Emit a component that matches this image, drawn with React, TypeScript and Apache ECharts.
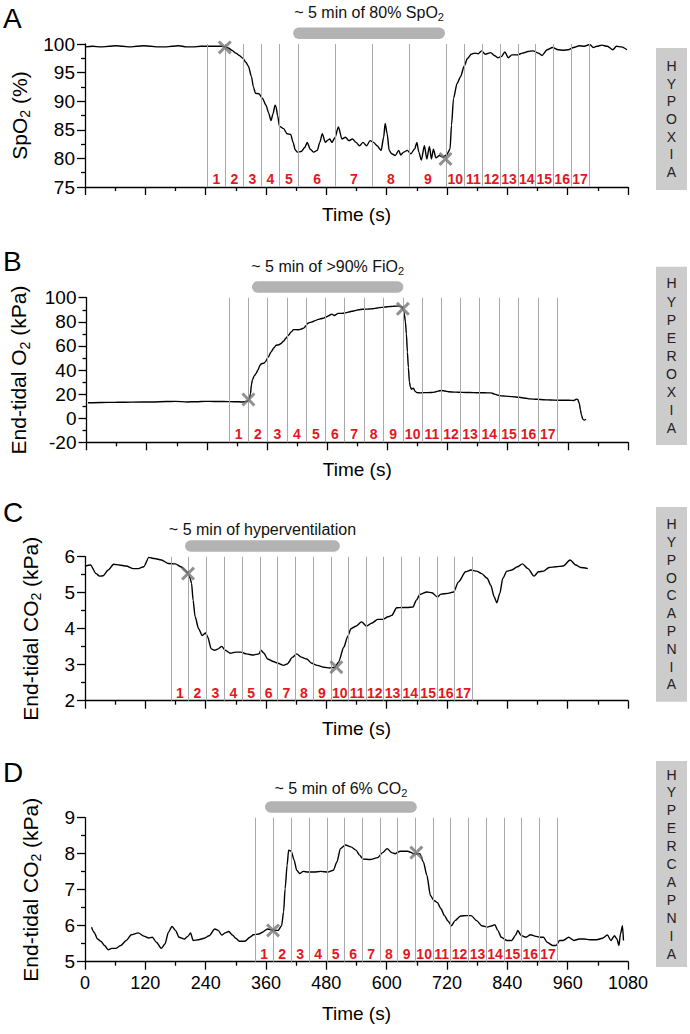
import React, { useEffect, useRef } from "react";
import * as echarts from "echarts";

const FONT = "'Liberation Sans', Arial, Helvetica, sans-serif";

// shared time axis (s)
const timeMin = 0;
const timeMax = 1080;
const timeStep = 120;

// ---------- Panel A: SpO2 (%) ----------
const spo2Trace = [
  [0, 99.5], [15, 99.6], [32, 99.5], [48, 99.6], [61, 99.7], [75, 99.6], [89, 99.5], [103, 99.6], [117, 99.7], [131, 99.6],
  [145, 99.5], [159, 99.5], [173, 99.6], [187, 99.7], [201, 99.5], [215, 99.5], [230, 99.6], [245, 99.6], [258, 99.6], [272, 99.6],
  [278, 99.5], [285, 99.3], [292, 98.9], [300, 98.4], [307, 98.0], [314, 97.5], [320, 96.8], [325, 96.1], [331, 94.3], [335, 92.5],
  [339, 91.4], [346, 91.3], [353, 90.5], [360, 89.3], [365, 88.0], [370, 86.6], [374, 87.8], [378, 89.3], [380, 89.0], [383, 87.5],
  [387, 85.6], [395, 85.2], [402, 84.3], [409, 84.2], [414, 82.8], [418, 81.5], [422, 81.1], [430, 81.2], [437, 81.9], [442, 82.8],
  [448, 81.6], [455, 81.1], [462, 81.4], [467, 82.8], [472, 84.3], [478, 82.8], [483, 83.2], [487, 83.4], [491, 82.8], [497, 83.6],
  [504, 85.5], [511, 83.4], [518, 83.7], [525, 83.1], [532, 83.4], [539, 82.8], [546, 82.2], [553, 82.8], [560, 82.2], [567, 83.1],
  [574, 82.8], [581, 82.2], [589, 81.4], [594, 83.7], [597, 86.1], [601, 84.3], [605, 81.4], [610, 80.8], [617, 80.5], [624, 81.4],
  [628, 80.6], [634, 81.1], [641, 81.4], [648, 80.8], [656, 81.7], [660, 82.8], [664, 81.1], [669, 79.7], [675, 82.2], [680, 79.9],
  [685, 82.1], [689, 79.9], [693, 81.6], [698, 80.1], [705, 80.5], [712, 80.2], [719, 80.6], [726, 81.6], [729, 85.8], [733, 90.5],
  [740, 93.1], [747, 94.3], [754, 96.1], [761, 97.5], [768, 98.2], [775, 98.4], [782, 98.3], [789, 98.8], [796, 98.2], [807, 98.5],
  [814, 98.0], [821, 97.6], [828, 97.8], [835, 98.6], [842, 97.6], [849, 98.1], [860, 98.1], [870, 98.4], [881, 98.7], [891, 98.8],
  [902, 98.4], [909, 98.0], [919, 99.0], [930, 99.4], [941, 99.0], [951, 98.9], [961, 99.0], [972, 99.4], [983, 99.7], [993, 99.6],
  [1004, 99.9], [1011, 99.4], [1018, 99.6], [1028, 99.8], [1039, 99.6], [1050, 99.0], [1057, 99.6], [1067, 99.5], [1078, 99.0],
];
const spo2Crosses = [[278, 99.4], [717, 79.9]];
const spo2Epochs = [244, 279, 315, 351, 386, 425, 498, 572, 645, 719, 754, 791, 826, 861, 896, 931, 967, 1002];
const spo2Exposure = [414, 716];

// ---------- Panel B: End-tidal O2 (kPa) ----------
const o2Trace = [
  [3, 12.8], [30, 13.0], [60, 13.2], [90, 13.3], [131, 13.5], [160, 13.8], [177, 14.0], [201, 13.5], [220, 13.7], [237, 14.0],
  [255, 13.9], [272, 13.8], [295, 13.7], [310, 13.5], [320, 13.8], [323, 15.0], [325, 17], [327, 20], [329, 28], [331, 32],
  [335, 35.5], [338, 37], [342, 40], [346, 44], [349, 45.2], [353, 45.5], [356, 46.5], [363, 51], [368, 55], [374, 58.5],
  [378, 60.5], [384, 61], [388, 62], [393, 64], [398, 66.5], [403, 69], [408, 71.5], [413, 73.5], [418, 73.5], [423, 73.4],
  [429, 74], [434, 75], [438, 77], [441, 78.7], [446, 79.5], [451, 80], [456, 81], [462, 82], [467, 82.5], [472, 83],
  [478, 84], [483, 85], [489, 86.4], [494, 85.2], [498, 86], [501, 87], [508, 87], [515, 87.3], [522, 88], [529, 88.7],
  [536, 89.3], [543, 90], [550, 90.4], [557, 90.5], [564, 90.6], [571, 90.8], [580, 91.5], [589, 92], [596, 92.3], [603, 92.6],
  [610, 92.8], [617, 93], [624, 93], [629, 92.5], [632, 90], [634, 86], [636, 80], [638, 70], [640, 55], [642, 42],
  [644, 30], [646, 26], [648, 24], [650, 24.5], [652, 25], [655, 22.5], [659, 21.2], [666, 21], [673, 21.2], [687, 21.3],
  [694, 21.6], [701, 22.5], [708, 23], [715, 22.6], [722, 22], [736, 21.6], [750, 21.4], [765, 21.3], [779, 21.1], [793, 21.1],
  [807, 21], [814, 20], [821, 19], [828, 18.5], [835, 18.3], [849, 17.9], [863, 17.4], [877, 16.5], [884, 16], [898, 15.7],
  [905, 15.5], [919, 15.2], [933, 15], [948, 14.9], [962, 14.9], [972, 14.7], [977, 15.8], [980, 15.5], [983, 12], [985, 7],
  [987, 3], [990, -1], [993, -1.6], [996, -0.8],
];
const o2Crosses = [[323, 15.5], [631, 90.8]];
const o2Epochs = [284, 323, 361, 400, 439, 476, 515, 553, 592, 631, 670, 708, 746, 784, 823, 862, 901, 939];
const o2Exposure = [330, 632];

// ---------- Panel C: End-tidal CO2 (kPa), hypocapnia ----------
const hypoCo2Trace = [
  [0, 5.74], [11, 5.77], [22, 5.53], [29, 5.46], [36, 5.47], [46, 5.63], [57, 5.79], [68, 5.77], [82, 5.74], [96, 5.67],
  [106, 5.67], [117, 5.72], [127, 5.98], [138, 5.95], [152, 5.91], [166, 5.81], [180, 5.80], [191, 5.72], [200, 5.62], [205, 5.53],
  [209, 5.40], [212, 5.26], [215, 4.79], [219, 4.33], [226, 4.0], [233, 3.81], [240, 3.88], [244, 3.77], [251, 3.44], [258, 3.40],
  [265, 3.44], [272, 3.51], [279, 3.40], [289, 3.32], [300, 3.35], [310, 3.35], [321, 3.30], [335, 3.27], [346, 3.30], [350, 3.40],
  [356, 3.32], [363, 3.16], [374, 3.09], [384, 3.04], [395, 2.98], [402, 3.02], [413, 3.21], [421, 3.30], [430, 3.21], [441, 3.16],
  [451, 3.04], [462, 2.98], [476, 2.93], [486, 2.91], [497, 2.93], [504, 3.07], [515, 3.49], [522, 3.77], [529, 4.0], [539, 4.07],
  [550, 4.19], [560, 4.07], [571, 4.16], [582, 4.26], [592, 4.26], [603, 4.33], [610, 4.37], [620, 4.58], [631, 4.59], [641, 4.59],
  [652, 4.60], [659, 4.79], [666, 4.95], [680, 5.02], [690, 5.0], [701, 4.88], [708, 4.96], [722, 4.98], [733, 5.02], [743, 5.30],
  [757, 5.58], [768, 5.63], [779, 5.60], [789, 5.53], [800, 5.40], [807, 5.21], [814, 4.88], [819, 4.72], [825, 4.98], [831, 5.40],
  [839, 5.60], [849, 5.63], [860, 5.72], [870, 5.80], [881, 5.67], [893, 5.46], [902, 5.58], [912, 5.60], [923, 5.70], [937, 5.72],
  [951, 5.74], [965, 5.91], [976, 5.77], [986, 5.70], [1000, 5.67],
];
const hypoCo2Crosses = [[205, 5.53], [500, 2.93]];
const hypoCo2Epochs = [172, 205, 242, 277, 313, 348, 383, 418, 453, 489, 524, 559, 594, 629, 665, 700, 735, 770];
const hypoCo2Exposure = [199, 507];

// ---------- Panel D: End-tidal CO2 (kPa), hypercapnia ----------
const hyperCo2Trace = [
  [13, 5.96], [18, 5.82], [25, 5.63], [32, 5.56], [39, 5.45], [46, 5.33], [53, 5.37], [61, 5.37], [71, 5.45], [82, 5.59],
  [92, 5.75], [106, 5.80], [117, 5.71], [127, 5.66], [134, 5.68], [142, 5.54], [152, 5.37], [159, 5.49], [166, 5.82], [173, 5.98],
  [180, 5.87], [187, 5.68], [198, 5.63], [205, 5.71], [210, 5.80], [215, 5.59], [226, 5.61], [237, 5.65], [247, 5.72], [258, 5.91],
  [265, 5.87], [272, 5.74], [279, 5.80], [286, 5.84], [293, 5.74], [300, 5.65], [307, 5.57], [318, 5.57], [328, 5.68], [335, 5.75],
  [346, 5.77], [353, 5.82], [363, 5.91], [374, 5.87], [384, 5.87], [391, 6.0], [395, 6.38], [398, 7.03], [402, 7.68], [405, 8.10],
  [410, 8.07], [416, 7.82], [421, 7.54], [427, 7.45], [434, 7.51], [444, 7.49], [455, 7.49], [469, 7.51], [483, 7.49], [494, 7.54],
  [501, 7.77], [508, 8.14], [518, 8.24], [529, 8.19], [539, 8.10], [546, 7.96], [553, 7.85], [567, 7.84], [582, 7.89], [592, 8.03],
  [601, 8.14], [610, 8.03], [617, 8.0], [627, 8.07], [641, 8.07], [655, 8.0], [666, 8.0], [673, 7.77], [680, 7.40], [687, 6.84],
  [694, 6.70], [701, 6.64], [708, 6.47], [715, 6.28], [722, 6.13], [729, 6.0], [736, 6.14], [747, 6.27], [758, 6.28], [768, 6.28],
  [779, 6.14], [789, 6.0], [800, 5.96], [810, 6.0], [815, 6.03], [821, 5.87], [828, 5.68], [839, 5.59], [849, 5.59], [856, 5.73],
  [861, 5.87], [867, 5.73], [877, 5.68], [886, 5.75], [895, 5.71], [905, 5.68], [912, 5.68], [919, 5.54], [930, 5.45], [937, 5.45],
  [944, 5.59], [951, 5.59], [962, 5.68], [972, 5.59], [983, 5.63], [993, 5.63], [1004, 5.61], [1018, 5.61], [1029, 5.65], [1039, 5.74],
  [1046, 5.59], [1053, 5.72], [1058, 5.63], [1062, 5.45], [1065, 5.77], [1069, 6.0], [1071, 5.59],
];
const hyperCo2Crosses = [[374, 5.87], [659, 8.03]];
const hyperCo2Epochs = [339, 374, 410, 446, 481, 516, 551, 587, 622, 657, 692, 727, 763, 798, 833, 868, 903, 939];
const hyperCo2Exposure = [358, 660];

const CROSS = "path://M3,0L10,7L17,0L20,3L13,10L20,17L17,20L10,13L3,20L0,17L7,10L0,3Z";

const panels = [
  {
    letter: "A", trace: spo2Trace, crosses: spo2Crosses, epochs: spo2Epochs, exposure: spo2Exposure,
    yMin: 75, yMax: 100, yStep: 5, yName: "SpO{s|2} (%)", note: "~ 5 min of 80% SpO{s|2}", side: "HYPOXIA",
    top: 44, height: 143, yNameGap: 46, xNameGap: 18, timeLabels: false,
    sideBox: [48, 190], sideStep: 17.7, letterY: 18, noteGap: 15,
  },
  {
    letter: "B", trace: o2Trace, crosses: o2Crosses, epochs: o2Epochs, exposure: o2Exposure,
    yMin: -20, yMax: 100, yStep: 20, yName: "End-tidal O{s|2} (kPa)", note: "~ 5 min of >90% FiO{s|2}", side: "HYPEROXIA",
    top: 297.7, height: 144.6, yNameGap: 55, xNameGap: 18, timeLabels: false,
    sideBox: [266.7, 445], sideStep: 18.1, letterY: 261, noteGap: 15,
  },
  {
    letter: "C", trace: hypoCo2Trace, crosses: hypoCo2Crosses, epochs: hypoCo2Epochs, exposure: hypoCo2Exposure,
    yMin: 2, yMax: 6, yStep: 1, yName: "End-tidal CO{s|2} (kPa)", note: "~ 5 min of hyperventilation", side: "HYPOCAPNIA",
    top: 556.7, height: 144, yNameGap: 42, xNameGap: 18, timeLabels: false,
    sideBox: [507, 701.7], sideStep: 17.8, letterY: 512, noteGap: 11,
  },
  {
    letter: "D", trace: hyperCo2Trace, crosses: hyperCo2Crosses, epochs: hyperCo2Epochs, exposure: hyperCo2Exposure,
    yMin: 5, yMax: 9, yStep: 1, yName: "End-tidal CO{s|2} (kPa)", note: "~ 5 min of 6% CO{s|2}", side: "HYPERCAPNIA",
    top: 817.7, height: 144, yNameGap: 42, xNameGap: 42, timeLabels: true,
    sideBox: [761, 967], sideStep: 17.9, letterY: 772, noteGap: 13,
  },
];

const GRID_LEFT = 85;
const GRID_WIDTH = 543;

function buildOption(): any {
  const axisColor = "#000";
  return {
    animation: false,
    backgroundColor: "#fff",
    textStyle: { fontFamily: FONT },
    grid: panels.map((p) => ({ left: GRID_LEFT, width: GRID_WIDTH, top: p.top, height: p.height, containLabel: false })),
    xAxis: panels.map((p, i) => ({
      type: "value",
      gridIndex: i,
      min: timeMin,
      max: timeMax,
      interval: timeStep,
      name: "Time (s)",
      nameLocation: "middle",
      nameGap: p.xNameGap,
      nameTextStyle: { fontSize: 19, color: "#000", fontFamily: FONT },
      axisLine: { onZero: false, lineStyle: { color: axisColor, width: 1.3 } },
      axisTick: { show: true, inside: false, length: 8, lineStyle: { color: axisColor, width: 1.3 } },
      minorTick: { show: true, splitNumber: 2, length: 4, lineStyle: { color: axisColor, width: 1.3 } },
      axisLabel: {
        show: p.timeLabels,
        fontSize: 18,
        color: "#000",
        margin: 12,
        fontFamily: FONT,
        formatter: (v: number) => String(v),
      },
      splitLine: { show: false },
      minorSplitLine: { show: false },
    })),
    yAxis: panels.map((p, i) => ({
      type: "value",
      gridIndex: i,
      min: p.yMin,
      max: p.yMax,
      interval: p.yStep,
      name: p.yName,
      nameLocation: "middle",
      nameGap: p.yNameGap,
      nameTextStyle: {
        fontSize: 21,
        color: "#000",
        fontFamily: FONT,
        rich: { s: { fontSize: 14, fontFamily: FONT, color: "#000", verticalAlign: "bottom", padding: [12, 0, 0, 0] } },
      },
      axisLine: { show: true, onZero: false, lineStyle: { color: axisColor, width: 1.3 } },
      axisTick: { show: true, inside: false, length: 8, lineStyle: { color: axisColor, width: 1.3 } },
      minorTick: { show: true, splitNumber: 2, length: 4, lineStyle: { color: axisColor, width: 1.3 } },
      axisLabel: { fontSize: 19, color: "#000", margin: 10, fontFamily: FONT, formatter: (v: number) => String(v) },
      splitLine: { show: false },
      minorSplitLine: { show: false },
    })),
    series: panels.flatMap((p, i) => [
      {
        type: "line",
        name: p.letter + "-epochs",
        xAxisIndex: i,
        yAxisIndex: i,
        data: [],
        z: 1,
        silent: true,
        markLine: {
          silent: true,
          symbol: ["none", "none"],
          label: { show: false },
          lineStyle: { color: "#a9a9a9", width: 1, type: "solid" },
          data: p.epochs.map((e) => ({ xAxis: e })),
        },
        markArea: {
          silent: true,
          itemStyle: { color: "rgba(0,0,0,0)", borderWidth: 0 },
          label: {
            show: true,
            position: "insideBottom",
            distance: 1,
            color: "#e3171d",
            fontWeight: "bold",
            fontSize: 14,
            fontFamily: FONT,
          },
          data: p.epochs.slice(0, -1).map((e, k) => [{ xAxis: e, name: String(k + 1) }, { xAxis: p.epochs[k + 1] }]),
        },
      },
      {
        type: "line",
        name: p.letter,
        xAxisIndex: i,
        yAxisIndex: i,
        data: p.trace,
        showSymbol: false,
        symbol: "none",
        smooth: 0.25,
        smoothMonotone: "x",
        lineStyle: { color: "#000", width: 1.4 },
        z: 3,
        silent: true,
      },
      {
        type: "scatter",
        name: p.letter + "-x",
        xAxisIndex: i,
        yAxisIndex: i,
        data: p.crosses,
        symbol: CROSS,
        symbolSize: 14,
        itemStyle: { color: "#747474" },
        z: 5,
        clip: false,
        silent: true,
      },
    ]),
  };
}

export default function App() {
  const ref = useRef<HTMLDivElement>(null);
  useEffect(() => {
    document.body.style.margin = "0";
    const chart = echarts.init(ref.current!, null, { renderer: "svg" });
    chart.setOption(buildOption());

    const graphics: any[] = [];
    panels.forEach((p, i) => {
      const x0 = chart.convertToPixel({ xAxisIndex: i } as any, p.exposure[0]) as number;
      const x1 = chart.convertToPixel({ xAxisIndex: i } as any, p.exposure[1]) as number;
      const capH = 11.5;
      const capBottom = p.top - 5;
      const capTop = capBottom - capH;
      graphics.push({
        type: "rect",
        shape: { x: x0, y: capTop, width: x1 - x0, height: capH, r: capH / 2 },
        style: { fill: "#b3b3b3" },
        silent: true,
      });
      graphics.push({
        type: "text",
        x: (x0 + x1) / 2,
        y: capTop - p.noteGap,
        style: {
          text: p.note,
          fontSize: 16,
          fontFamily: FONT,
          fill: "#111",
          align: "center",
          verticalAlign: "middle",
          rich: { s: { fontSize: 11, fontFamily: FONT, fill: "#111", verticalAlign: "bottom", padding: [9, 0, 0, 0] } },
        },
        silent: true,
      });
      // panel letter
      graphics.push({
        type: "text",
        x: 3,
        y: p.letterY,
        style: { text: p.letter, fontSize: 28, fontFamily: FONT, fill: "#000", align: "left", verticalAlign: "middle" },
        silent: true,
      });
      // side label
      const [b0, b1] = p.sideBox;
      graphics.push({
        type: "rect",
        shape: { x: 656, y: b0, width: 31, height: b1 - b0 },
        style: { fill: "#cccccc" },
        silent: true,
      });
      graphics.push({
        type: "text",
        x: 671.5,
        y: (b0 + b1) / 2,
        style: {
          text: p.side.split("").join("\n"),
          fontSize: 14,
          lineHeight: p.sideStep,
          fontFamily: FONT,
          fill: "#222",
          align: "center",
          verticalAlign: "middle",
        },
        silent: true,
      });
    });
    chart.setOption({ graphic: graphics });
    return () => chart.dispose();
  }, []);
  return <div ref={ref} style={{ width: 690, height: 1034 }} />;
}
